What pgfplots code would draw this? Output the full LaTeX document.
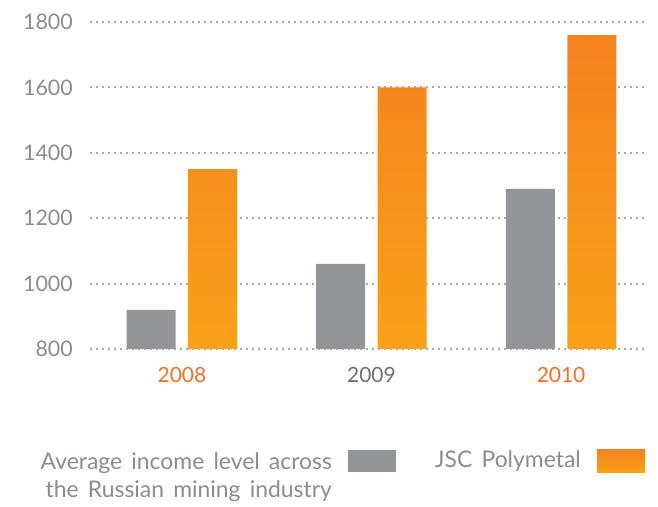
\documentclass[border=0pt]{standalone}
\usepackage{fontspec}
\setmainfont{Lato}
\usepackage{pgfplots}
\pgfplotsset{compat=1.18}
\definecolor{bargray}{HTML}{939598}
\definecolor{orTop}{HTML}{F5821F}
\definecolor{orBot}{HTML}{F9A11B}
\definecolor{yrorange}{HTML}{F37021}
\definecolor{yrgray}{HTML}{6D6E71}
\definecolor{tickgray}{HTML}{8A8C8E}
\definecolor{gridgray}{HTML}{A7A9AC}
\newcommand{\legfont}{\fontsize{23}{28.5}\selectfont}
\newcommand{\wide}{\spaceskip=0.4em\relax}
\begin{document}
\fontsize{21.5}{26}\selectfont
\begin{tikzpicture}
\path[use as bounding box] (0,0) rectangle (658bp,507bp);
\begin{axis}[
  at={(90bp,158bp)}, anchor=south west,
  scale only axis, width=555bp, height=327bp,
  xmin=-0.485, xmax=2.443, ymin=800, ymax=1800,
  axis line style={draw=none}, tick style={draw=none}, major tick length=0pt,
  ytick={800,1000,...,1800},
  /pgf/number format/1000 sep={},
  /pgf/number format/assume math mode=true,
  ymajorgrids,
  grid style={color=gridgray, line width=2bp, dash pattern=on 2.4bp off 3.6bp},
  xtick={0,1,2},
  xticklabels={\textcolor{yrorange}{2008},\textcolor{yrgray}{2009},\textcolor{yrorange}{2010}},
  xticklabel style={anchor=north, inner sep=0pt, yshift=-18bp, font=\fontsize{21}{25}\selectfont},
  yticklabel style={anchor=east, inner sep=0pt, xshift=-17bp, text=tickgray},
  ybar, bar width=49bp,
  legend plot pos=right,
  legend cell align=right,
  legend style={draw=none, fill=none, legend columns=2, at={(1,-0.3056)}, anchor=north east,
    inner sep=0pt, text=tickgray, nodes={inner sep=0pt},
    font=\legfont,
    /tikz/every odd column/.append style={column sep=16bp},
    /tikz/every even column/.append style={column sep=39bp}},
  legend image code/.code={\path[#1] (0bp,-11.5bp) rectangle (48bp,11bp);},
]
\addplot[fill=bargray, draw=none, bar shift=-30.75bp] coordinates {(0,920) (1,1060) (2,1290)};
\addlegendentry{\wide\begin{tabular}[t]{@{}r@{}}\wide Average income level across\\\wide the Russian mining industry\end{tabular}}
\addplot[draw=none, top color=orTop, bottom color=orBot, bar shift=30.75bp] coordinates {(0,1350) (1,1600) (2,1760)};
\addlegendentry{\wide JSC Polymetal}
\end{axis}
\end{tikzpicture}
\end{document}
